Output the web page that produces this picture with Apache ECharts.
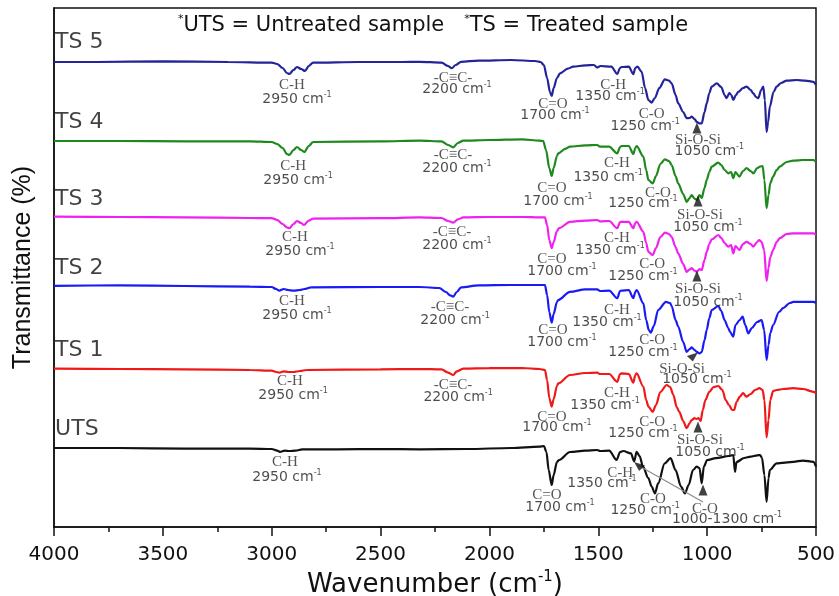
<!DOCTYPE html>
<html><head><meta charset="utf-8">
<script src="https://cdn.jsdelivr.net/npm/echarts@6/dist/echarts.min.js"></script>
<style>html,body{margin:0;padding:0;background:#fff}#c{width:839px;height:596px}</style>
</head><body><div id="c"></div>
<script>
// ---- Spectra: [wavenumber (cm-1), transmittance (offset, arb. units)] ----
const ts5 = [[4000,116.25],[3800,116.25],[3500,116.4],[3200,116.25],[3000,116.1],[2975,115.75],[2950,114.75],[2930,113.5],[2919,113.25],[2900,114.25],[2884,115],[2865,114.5],[2847,114],[2830,115.25],[2810,116.1],[2600,116.25],[2400,116.25],[2320,116.3],[2220,116.1],[2190,115.25],[2173,114.7],[2155,115.5],[2130,116.3],[2050,116.6],[1900,116.75],[1790,116.5],[1765,116.25],[1750,115.5],[1735,112.25],[1722,108.75],[1714,107.75],[1705,109.75],[1690,112.25],[1676,113.4],[1640,114.6],[1615,115.1],[1560,115.4],[1520,115.5],[1505,114.9],[1490,115.25],[1440,115.1],[1413,113.25],[1400,114.75],[1393,115],[1360,115.1],[1339,113.2],[1330,114.75],[1320,115.1],[1301,113.8],[1285,109.75],[1270,106.75],[1255,106.1],[1240,107.25],[1220,109.75],[1194,111.9],[1175,111.6],[1163,110.9],[1145,108],[1133,105.9],[1110,103.75],[1094,102.2],[1080,102.25],[1071,102.6],[1058,102],[1048,101.3],[1035,100.9],[1025,100.9],[1012,103.75],[1002,105.9],[990,108.5],[979,110.1],[956,110.9],[935,110],[920,108],[911,107.2],[898,108.5],[889,108],[880,106.75],[868,108],[857,108.8],[835,109.75],[819,110.1],[800,109.25],[788,108.4],[775,107.5],[765,107.2],[752,109.25],[742,110.1],[735,106.75],[727,98.8],[720,101.25],[712,105.1],[695,108.75],[681,110.1],[660,111],[635,111.6],[589,111.75],[550,111.6],[512,111.3],[500,110.5]];
const ts4 = [[4000,96.5],[3700,96.5],[3400,96.4],[3100,96.4],[3000,96.25],[2975,95.75],[2950,94.75],[2930,93.25],[2919,93],[2900,94.25],[2884,95],[2865,94.25],[2850,93.75],[2830,95.25],[2810,96.25],[2500,96.4],[2320,96.6],[2220,96.4],[2190,95.5],[2166,94.9],[2145,96],[2120,96.6],[2000,96.75],[1850,96.9],[1770,96.6],[1753,96.5],[1740,94.25],[1725,89.75],[1714,87.75],[1705,89.75],[1690,92.75],[1684,93.4],[1650,94.6],[1630,95.1],[1560,95.4],[1505,95.5],[1492,95.1],[1450,95.1],[1413,93.4],[1400,95],[1393,95.25],[1360,95.25],[1339,93.25],[1330,94.75],[1324,95.25],[1293,92.6],[1280,89.25],[1270,86.75],[1250,85.9],[1235,87.75],[1215,90.75],[1194,91.9],[1175,91.5],[1163,90.5],[1145,87.75],[1133,85.9],[1110,83.25],[1094,81.3],[1080,82.25],[1071,83],[1058,82.1],[1048,81.75],[1035,83],[1025,82.25],[1012,84.75],[1002,86.75],[990,88.75],[979,90.1],[949,91.1],[935,90.5],[920,89.25],[903,88.4],[890,88.75],[880,87.2],[870,88.75],[852,87.6],[835,89],[819,89.7],[800,89],[788,88.4],[770,89.75],[757,90.1],[745,90.25],[737,86.75],[727,79.7],[718,83],[710,86],[697,87.6],[681,89.25],[666,90.1],[635,91.25],[604,91.6],[560,91.75],[512,91.75],[500,91.25]];
const ts3 = [[4000,77.6],[3700,77.5],[3400,77.4],[3100,77.25],[3000,77.2],[2975,76.75],[2950,75.75],[2930,74.9],[2919,74.7],[2900,75.75],[2884,76.5],[2865,76],[2852,75.5],[2830,76.6],[2810,77.1],[2500,77.2],[2320,77.4],[2220,77.25],[2190,76.5],[2166,76.1],[2145,76.9],[2120,77.4],[2000,77.5],[1850,77.5],[1770,77.4],[1745,77.4],[1735,75.5],[1725,71.75],[1714,69.7],[1705,71.25],[1690,74],[1680,74.7],[1630,76.3],[1560,76.6],[1505,76.75],[1492,76.4],[1450,76.5],[1413,74.7],[1400,76.25],[1393,76.3],[1360,76.3],[1339,74.7],[1330,76],[1324,76.3],[1293,73.8],[1280,71],[1270,68.8],[1250,68],[1235,69.75],[1215,72.5],[1194,73.6],[1175,73.25],[1163,72.5],[1145,70],[1133,68.4],[1110,65.75],[1094,63.8],[1080,64.4],[1071,64.7],[1058,64.1],[1048,63.8],[1035,64.5],[1025,64.25],[1012,66.75],[1002,68.8],[990,70.75],[979,71.9],[949,73],[935,72.25],[920,71],[903,70.1],[890,70.5],[880,68.4],[870,70.25],[852,69.25],[835,70.75],[819,71.3],[800,70.75],[788,70.1],[770,71.25],[761,71.75],[750,71.25],[738,69.25],[727,61.5],[718,64.75],[710,67.5],[697,69.25],[681,71.25],[666,72.2],[635,73.25],[604,73.4],[560,73.4],[512,73.4],[500,73]];
const ts2 = [[4000,60.3],[3700,60.4],[3400,60.25],[3100,60.1],[3000,60],[2980,59.5],[2965,59.1],[2945,59.5],[2925,59.25],[2900,59.1],[2870,59.25],[2850,59.5],[2820,59.9],[2500,60],[2320,60],[2230,59.75],[2200,58.75],[2180,57.9],[2166,57.6],[2150,58.75],[2130,59.9],[2050,60.4],[1900,60.5],[1770,60.5],[1745,60.5],[1735,58],[1725,53.75],[1714,51.1],[1705,53.25],[1690,56.25],[1684,56.75],[1630,58.8],[1560,59.4],[1505,59.4],[1492,59],[1450,59.1],[1413,57.2],[1400,59],[1393,59.1],[1360,59.25],[1339,57.2],[1330,58.75],[1324,59.25],[1293,55.9],[1280,51.75],[1268,49.25],[1259,48.6],[1245,50.25],[1225,54.25],[1189,56.3],[1170,56],[1163,55.25],[1145,51.75],[1133,50.1],[1110,46.25],[1094,43.8],[1080,44.5],[1071,44.9],[1058,44.25],[1048,43.8],[1035,43.4],[1025,43.75],[1012,46.75],[1002,49.25],[990,52.25],[979,54.25],[949,55.25],[935,54],[920,51.75],[903,49.75],[895,48.8],[880,47.6],[870,50.5],[850,51.75],[837,52.6],[825,50.5],[811,48.4],[795,49.75],[770,51.25],[750,51.75],[738,49.25],[727,41.75],[718,45.5],[710,48.5],[697,50.5],[670,53.75],[651,54.7],[620,56],[604,56.3],[560,56.3],[512,56.3],[500,56]];
const ts1 = [[4000,39.6],[3700,39.5],[3400,39.4],[3100,39.25],[3000,39.1],[2980,38.75],[2965,38.6],[2945,38.9],[2925,38.75],[2900,38.75],[2870,39],[2840,39.25],[2500,39.4],[2320,39.5],[2220,39.4],[2190,38.6],[2166,38],[2150,38.9],[2120,39.6],[2000,39.7],[1850,39.75],[1770,39.5],[1745,39.25],[1735,36.75],[1725,32.25],[1714,30.1],[1705,32],[1690,35.25],[1684,35.9],[1630,38],[1560,38.5],[1505,38.6],[1492,38.25],[1450,38.25],[1413,36.3],[1400,38.25],[1393,38.4],[1360,38.25],[1339,36.1],[1330,38],[1324,38.4],[1293,35.1],[1280,31.75],[1270,30.1],[1250,28.8],[1235,30.5],[1215,33.75],[1186,35.5],[1170,35],[1155,33],[1140,30],[1128,28.8],[1110,26.5],[1094,24.7],[1080,26],[1071,26.75],[1058,27.2],[1048,27],[1040,27.25],[1030,26.5],[1020,29.25],[1008,31.75],[990,33.8],[970,35],[949,35.25],[930,34.25],[915,31.75],[900,30.5],[885,29.25],[876,29.25],[865,31.25],[850,32.6],[835,33.5],[820,32.6],[800,33.25],[780,34.25],[760,34.7],[745,34.25],[737,31.75],[727,22.4],[718,26.75],[710,31.75],[697,34],[681,34.25],[650,34.5],[604,34.7],[560,34.5],[512,33.8],[500,33.5]];
const uts = [[4000,19.75],[3700,19.75],[3400,19.6],[3100,19.6],[3000,19.5],[2975,19.1],[2962,18.8],[2940,19.1],[2920,19],[2890,19.1],[2860,19.4],[2700,19.4],[2500,19.5],[2320,19.4],[2100,19.5],[1900,19.75],[1770,20.1],[1750,20.25],[1738,18.75],[1728,14.25],[1714,10.5],[1705,13],[1690,16.25],[1680,16.75],[1630,18.75],[1560,19.1],[1505,19.25],[1492,19],[1450,19.1],[1416,16.75],[1400,18.75],[1385,19],[1350,18.4],[1335,16.4],[1324,18.8],[1310,17.75],[1295,15.1],[1270,12.25],[1255,10.1],[1240,8.4],[1225,10.9],[1195,15.9],[1168,17.2],[1145,14.25],[1120,10.1],[1102,8.4],[1085,10.5],[1065,14.25],[1048,15.1],[1035,14.75],[1025,10.9],[1015,15.1],[1000,16.75],[960,17.2],[900,17.75],[880,18],[872,13.8],[865,16.25],[830,17.25],[800,17.6],[770,17.9],[757,18],[748,17.25],[737,13],[727,6.3],[718,12.25],[712,14.25],[681,15.9],[604,16.3],[560,16.6],[512,16.3],[500,15.1]];

const spectra = [ts5, ts4, ts3, ts2, ts1, uts];
const sampleNames = ['TS 5', 'TS 4', 'TS 3', 'TS 2', 'TS 1', 'UTS'];
const xTicks = [4000, 3500, 3000, 2500, 2000, 1500, 1000, 500];

// sample name anchors: [wavenumber, value]
const nameAnchors = [[3995,121.25],[3995,101.25],[3995,82],[3995,64.75],[3995,44.25],[3995,24.5]];

// band annotations: [wavenumber, value, kind ('g' group / 'w' wavenumber), text]
const bandLabels = [
  [2907,110.5,'g','C-H'],[2884,107,'w','2950'],[2167,112.25,'g','-C≡C-'],[2149,109.4,'w','2200'],
  [1708,105.75,'g','C=O'],[1699,103,'w','1700'],[1432,110.5,'g','C-H'],[1446,107.75,'w','1350'],
  [1255,103.25,'g','C-O'],[1285,100.25,'w','1250'],[1042,96.75,'g','Si-O-Si'],[990,94,'w','1050'],

  [2902,90.25,'g','C-H'],[2879,86.75,'w','2950'],[2167,93,'g','-C≡C-'],[2149,89.75,'w','2200'],
  [1713,84.75,'g','C=O'],[1685,81.5,'w','1700'],[1414,91,'g','C-H'],[1455,87.5,'w','1350'],
  [1226,83.5,'g','C-O'],[1295,81,'w','1250'],[1033,78,'g','Si-O-Si'],[996,75,'w','1050'],

  [2893,72.5,'g','C-H'],[2870,69,'w','2950'],[2172,73.75,'g','-C≡C-'],[2149,70.5,'w','2200'],
  [1713,67,'g','C=O'],[1667,64,'w','1700'],[1414,72.25,'g','C-H'],[1446,69.25,'w','1350'],
  [1253,65.75,'g','C-O'],[1295,62.75,'w','1250'],[1042,59.5,'g','Si-O-Si'],[996,56.25,'w','1050'],

  [2907,56.5,'g','C-H'],[2884,53,'w','2950'],[2181,55,'g','-C≡C-'],[2158,51.75,'w','2200'],
  [1708,49.25,'g','C=O'],[1667,46.25,'w','1700'],[1414,54.25,'g','C-H'],[1460,51.25,'w','1350'],
  [1253,46.75,'g','C-O'],[1295,43.75,'w','1250'],[1115,39.5,'g','Si-O-Si'],[1047,37,'w','1050'],

  [2916,36.5,'g','C-H'],[2902,33,'w','2950'],[2167,35.5,'g','-C≡C-'],[2144,32.5,'w','2200'],
  [1713,27.5,'g','C=O'],[1690,25,'w','1700'],[1414,33.5,'g','C-H'],[1469,30.5,'w','1350'],
  [1253,26.25,'g','C-O'],[1295,23.5,'w','1250'],[1033,21.75,'g','Si-O-Si'],[987,18.75,'w','1050'],

  [2939,16.25,'g','C-H'],[2930,12.5,'w','2950'],[1736,8,'g','C=O'],[1676,5,'w','1700'],
  [1400,13.5,'g','C-H'],[1483,11,'w','1350'],[1249,7,'g','C-O'],[1285,4.25,'w','1250'],
  [1010,4.5,'g','C-O'],[909,2,'w','1000-1300']
];

// arrow heads: [wavenumber, value, direction ('up', 'upRight', 'upLeft')]
const arrowHeads = [[1047,99.75,'up'],[1042,81.5,'up'],[1047,62.75,'up'],[1068,42.5,'upRight'],[1042,25,'up'],[1019,9.25,'up'],[1310,15.1,'upLeft']];
// pointer line (UTS, C-O 1000-1300)
const pointerLine = [[1019,6.25],[1320,15.5]];

const arrowShapes = {
  up: {symbol: 'triangle', size: [9, 11]},
  upRight: {symbol: 'path://M10,0 L0,3.5 L5.5,9 Z', size: [11, 9]},
  upLeft: {symbol: 'path://M0,0 L10,3.5 L4.5,9 Z', size: [11, 9]}
};

const colors = ['#24249a','#1e8a1e','#f020f0','#1a1af5','#f01818','#111111'];
const sans = '"DejaVu Sans", "Liberation Sans", Arial, sans-serif';
const serif = '"Liberation Serif", "Times New Roman", serif';

const rich = {
  g: {fontFamily: serif, fontSize: 15, color: '#2a2a2a', lineHeight: 16},
  w: {fontFamily: sans, fontSize: 14, color: '#1e1e1e', lineHeight: 16},
  s: {fontFamily: sans, fontSize: 8, color: '#1e1e1e', verticalAlign: 'top', lineHeight: 9}
};

const series = spectra.map((d, i) => ({
  type: 'line', name: sampleNames[i], data: d, showSymbol: false,
  smooth: 0.3, smoothMonotone: 'x',
  lineStyle: {color: colors[i], width: 2.2}, itemStyle: {color: colors[i]},
  silent: true, z: 3
}));

series.push({
  type: 'scatter', symbolSize: 0, silent: true, z: 6,
  data: bandLabels.map(a => ({
    value: [a[0], a[1]],
    label: {formatter: a[2] === 'g' ? '{g|' + a[3] + '}' : '{w|' + a[3] + ' cm}{s|-1}'}
  })),
  label: {show: true, position: 'inside', rich: rich}
});

series.push({
  type: 'scatter', symbolSize: 0, silent: true, z: 6,
  data: nameAnchors.map((a, i) => ({value: a, label: {formatter: sampleNames[i]}})),
  label: {show: true, position: 'right', distance: 0, fontFamily: sans, fontSize: 22, color: '#111'}
});

series.push({
  type: 'line', data: pointerLine, showSymbol: false, silent: true, z: 4,
  lineStyle: {color: '#8a8a8a', width: 1.2}
});

series.push({
  type: 'scatter', silent: true, z: 7,
  data: arrowHeads.map(a => ({value: [a[0], a[1]], symbol: arrowShapes[a[2]].symbol, symbolSize: arrowShapes[a[2]].size})),
  itemStyle: {color: '#111'}
});

const chart = echarts.init(document.getElementById('c'), null, {renderer: 'canvas'});
chart.setOption({
  animation: false,
  backgroundColor: '#fff',
  grid: {left: 54, right: 23, top: 8, bottom: 69, show: true, borderColor: '#111', borderWidth: 1.5,
         containLabel: false, outerBoundsMode: 'none'},
  xAxis: {
    type: 'value', inverse: true, min: 500, max: 4000, interval: 500,
    axisLine: {show: true, onZero: false, lineStyle: {color: '#111', width: 1.5}},
    axisTick: {show: true, inside: false, length: 9, lineStyle: {color: '#111', width: 1.5}},
    minorTick: {show: true, splitNumber: 2, length: 5, lineStyle: {color: '#111', width: 1.5}},
    splitLine: {show: false},
    axisLabel: {fontFamily: sans, fontSize: 20, color: '#111', margin: 18,
      formatter: v => xTicks.includes(v) ? String(v) : ''},
    name: '{a|Wavenumber (cm}{b|-1}{a|)}', nameLocation: 'middle', nameGap: 40,
    nameTextStyle: {rich: {
      a: {fontFamily: sans, fontSize: 26, color: '#111', lineHeight: 30},
      b: {fontFamily: sans, fontSize: 15, color: '#111', verticalAlign: 'top', lineHeight: 18}
    }}
  },
  yAxis: {
    type: 'value', min: 0, max: 129.75,
    axisLine: {show: true, lineStyle: {color: '#111', width: 1.5}},
    axisTick: {show: false}, axisLabel: {show: false}, splitLine: {show: false},
    name: 'Transmittance (%)', nameLocation: 'middle', nameGap: 18, nameRotate: 90,
    nameTextStyle: {fontFamily: '"Liberation Sans", Arial, sans-serif', fontSize: 25, color: '#111'}
  },
  graphic: [{
    type: 'text', x: 433, y: 26, z: 10,
    style: {
      text: '{s|*}{t|UTS = Untreated sample}{t|   }{s|*}{t|TS = Treated sample}',
      align: 'center', verticalAlign: 'middle',
      rich: {
        t: {fontFamily: sans, fontSize: 21, fill: '#111', color: '#111', lineHeight: 24},
        s: {fontFamily: sans, fontSize: 11, fill: '#111', color: '#111', verticalAlign: 'top', lineHeight: 12}
      }
    }
  }],
  series: series
});
</script>
</body></html>
